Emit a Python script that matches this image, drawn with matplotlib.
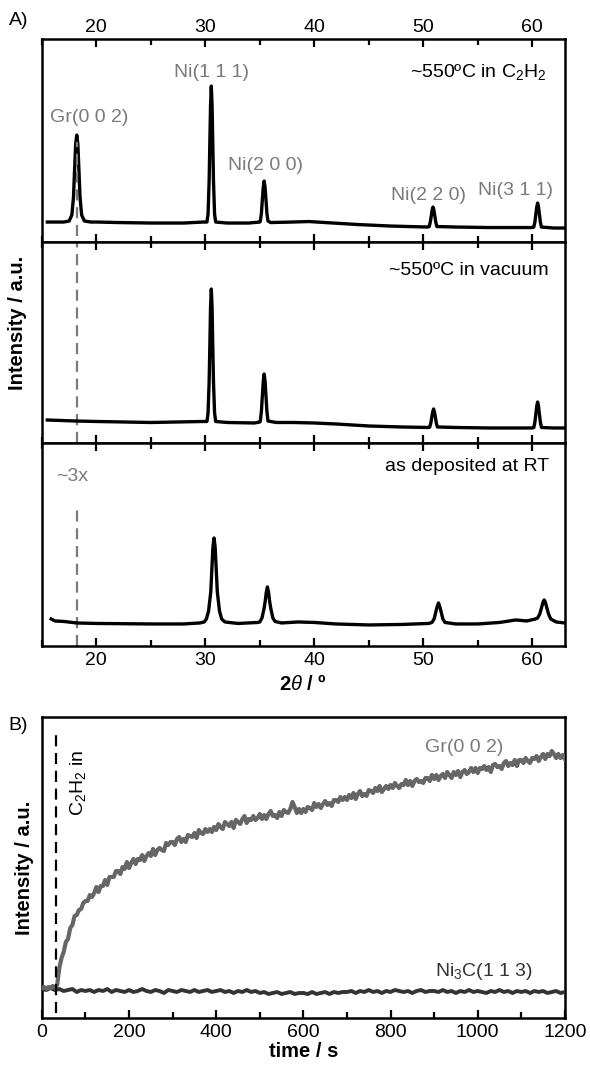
import matplotlib
matplotlib.use('Agg')
import matplotlib.pyplot as plt
from matplotlib.ticker import MultipleLocator

plt.rcParams['font.family'] = ['Liberation Sans', 'DejaVu Sans']
plt.rcParams['mathtext.fontset'] = 'custom'
plt.rcParams['mathtext.rm'] = 'Liberation Sans'
plt.rcParams['mathtext.it'] = 'Liberation Sans:italic'

# ---- data: XRD patterns (2theta in degrees, intensity in a.u.) ----
tt_c2h2 = [15.5, 17.0, 17.5, 17.75, 17.9, 18.0, 18.1, 18.2, 18.3, 18.4, 18.5, 18.65, 18.9, 19.5,
           20.0, 22.0, 25.0, 28.0, 29.8, 30.15, 30.25, 30.35, 30.42, 30.48, 30.55, 30.62, 30.68,
           30.75, 30.85, 30.95, 32.0, 34.0, 35.0, 35.05, 35.15, 35.25, 35.32, 35.4, 35.48, 35.55,
           35.65, 35.75, 36.0, 38.0, 39.5, 41.0, 44.0, 47.0, 50.4, 50.55, 50.65, 50.75, 50.82,
           50.9, 50.98, 51.05, 51.15, 51.25, 53.0, 56.0, 60.0, 60.15, 60.25, 60.35, 60.42, 60.5,
           60.58, 60.65, 60.75, 60.85, 62.0, 63.0]
int_c2h2 = [20, 20, 21, 27, 45, 72, 98, 107, 98, 72, 45, 27, 21, 20,
            20, 19.5, 19, 19, 20, 20, 28, 61, 102, 137, 156, 137, 102,
            61, 28, 20, 19, 19, 20, 21, 29, 45, 55, 61, 55, 45,
            29, 21, 19.5, 20, 20.5, 19.5, 17.5, 16, 15, 15.5, 20, 27, 32,
            35, 32, 27, 20, 15.5, 15, 14.5, 14.5, 15, 20, 29, 35, 39,
            35, 29, 20, 15, 14, 14]

tt_vac = [15.5, 18.0, 20.0, 25.0, 29.8, 30.15, 30.25, 30.35, 30.42, 30.48, 30.55, 30.62, 30.68,
          30.75, 30.85, 30.95, 32.0, 34.5, 35.0, 35.05, 35.15, 35.25, 35.32, 35.4, 35.48, 35.55,
          35.65, 35.75, 36.5, 38.0, 40.0, 42.0, 45.0, 48.0, 50.5, 50.6, 50.7, 50.8, 50.87, 50.95,
          51.03, 51.1, 51.2, 51.3, 53.0, 56.0, 60.0, 60.15, 60.25, 60.35, 60.42, 60.5, 60.58,
          60.65, 60.75, 60.85, 62.0, 63.0]
int_vac = [23, 22, 21.5, 20.5, 21.5, 21.5, 30, 61, 100, 136, 154, 136, 100,
           61, 30, 21.5, 20.5, 20, 21, 22, 32, 50, 62, 69, 62, 50,
           32, 22, 20.5, 20.5, 20, 19, 17, 16, 15.5, 16, 20, 27, 31, 34,
           31, 27, 20, 16, 15.5, 15, 15, 15.5, 21, 30, 37, 41, 37,
           30, 21, 15.5, 15, 15]

tt_rt = [15.85, 16.2, 17.0, 18.2, 20.0, 25.0, 28.0, 29.5, 29.9, 30.1, 30.3, 30.5, 30.6, 30.7,
         30.8, 30.9, 31.0, 31.1, 31.3, 31.5, 31.8, 33.0, 34.8, 35.0, 35.2, 35.4, 35.5, 35.6,
         35.7, 35.8, 35.9, 36.0, 36.2, 36.4, 37.0, 38.5, 40.0, 42.0, 45.0, 48.0, 50.5, 50.8,
         51.0, 51.2, 51.3, 51.4, 51.5, 51.6, 51.8, 52.0, 53.0, 55.0, 57.0, 58.5, 59.5, 60.3,
         60.5, 60.7, 60.9, 61.0, 61.1, 61.2, 61.3, 61.5, 61.7, 62.2, 63.0]
int_rt = [27, 25, 24.5, 23, 22.5, 22, 22, 23, 24, 27, 35, 54, 77, 99,
          108, 99, 77, 54, 35, 27, 24, 22.5, 23.5, 24, 28, 38, 45, 54,
          59, 54, 45, 38, 28, 24.5, 23, 24, 23.5, 22, 21, 21.5, 22.5, 23.5,
          27, 36, 40, 43, 40, 36, 27, 23.5, 22, 22, 23.5, 26, 25, 27,
          28, 32, 40, 44, 46, 44, 40, 32, 27, 24, 23]

# ---- data: time series, Gr(002) sampled every 5 s, Ni3C(113) every 10 s ----
t_gr = list(range(0, 1205, 5))
i_gr = [30, 31, 29, 31, 30, 32, 30, 33, 50, 60, 66, 76, 79, 90, 93, 102, 103, 108, 109, 115,
        117, 117, 123, 121, 125, 131, 126, 132, 132, 138, 133, 141, 141, 141, 147, 147, 144, 151, 149, 156,
        150, 155, 159, 154, 159, 158, 163, 157, 162, 165, 162, 169, 163, 168, 170, 168, 167, 175, 173, 176,
        176, 173, 179, 181, 176, 179, 176, 183, 182, 181, 185, 180, 188, 185, 184, 189, 186, 189, 186, 191,
        188, 194, 191, 189, 196, 194, 192, 196, 190, 198, 196, 194, 199, 202, 195, 199, 198, 202, 198, 200,
        204, 199, 203, 199, 204, 207, 202, 203, 200, 206, 202, 208, 206, 205, 209, 216, 211, 205, 209, 205,
        209, 206, 211, 210, 208, 215, 211, 214, 210, 214, 217, 213, 215, 212, 218, 218, 216, 221, 218, 221,
        218, 223, 220, 225, 219, 224, 227, 222, 224, 222, 228, 227, 225, 230, 227, 232, 226, 229, 232, 229,
        233, 230, 235, 232, 230, 234, 233, 238, 233, 237, 232, 237, 239, 236, 237, 235, 240, 240, 237, 243,
        239, 243, 238, 242, 244, 240, 246, 243, 240, 246, 243, 247, 241, 246, 248, 244, 246, 250, 246, 250,
        245, 250, 249, 252, 248, 251, 246, 253, 254, 251, 252, 249, 255, 257, 252, 255, 253, 258, 252, 258,
        258, 255, 260, 257, 255, 260, 259, 262, 257, 261, 264, 259, 264, 262, 267, 264, 260, 264, 260, 263, 259]

t_ni3c = list(range(0, 1205, 10))
i_ni3c = [29, 28, 30, 28, 29, 27, 28, 29, 26, 28,
          27, 28, 26, 28, 27, 29, 26, 28, 27, 26,
          28, 26, 27, 29, 27, 26, 28, 27, 25, 28,
          27, 26, 28, 27, 26, 28, 26, 27, 28, 26,
          27, 28, 26, 27, 25, 27, 26, 28, 26, 27,
          25, 26, 24, 25, 26, 24, 25, 26, 24, 25,
          25, 24, 26, 24, 25, 26, 24, 26, 25, 26,
          26, 27, 25, 27, 26, 28, 26, 27, 25, 27,
          26, 28, 27, 26, 27, 25, 27, 28, 26, 27,
          27, 26, 28, 26, 27, 25, 27, 26, 28, 26,
          27, 26, 25, 27, 26, 28, 26, 27, 25, 27,
          26, 27, 25, 27, 26, 27, 25, 26, 27, 25, 26]

gr_pos = 18.2
t_gas_in = 32

fig = plt.figure(figsize=(5.9, 10.7), dpi=100)
L, W = 0.071, 0.8864
ax1 = fig.add_axes([L, 0.7738, W, 0.1897])
ax2 = fig.add_axes([L, 0.5860, W, 0.1878])
ax3 = fig.add_axes([L, 0.3963, W, 0.1897])
axb = fig.add_axes([L, 0.0486, W, 0.2813])

grey = '#7a7a7a'
lw_curve = 2.4
fs = 14        # annotation text
fs_tick = 14
fs_lab = 14.5

for ax, x, y, top in [(ax1, tt_c2h2, int_c2h2, 203), (ax2, tt_vac, int_vac, 201), (ax3, tt_rt, int_rt, 203)]:
    ax.plot(x, y, color='black', lw=lw_curve, solid_joinstyle='round', zorder=3)
    ax.set_xlim(15, 63)
    ax.set_ylim(0, top)
    ax.set_yticks([])
    ax.xaxis.set_major_locator(MultipleLocator(10))
    ax.xaxis.set_minor_locator(MultipleLocator(5))
    ax.tick_params(axis='x', which='both', direction='in', top=True, bottom=True,
                   width=1.6, labelsize=fs_tick, labelbottom=False, labeltop=False)
    ax.tick_params(axis='x', which='major', length=6)
    ax.tick_params(axis='x', which='minor', length=4)
    for s in ax.spines.values():
        s.set_linewidth(1.8)

ax1.tick_params(axis='x', labeltop=True, pad=2)
ax3.tick_params(axis='x', labelbottom=True, pad=4)

# dashed marker for Gr(002)
ax1.plot([gr_pos, gr_pos], [6, 100], color=grey, lw=1.6, ls=(0, (5, 3)), zorder=4)
ax2.plot([gr_pos, gr_pos], [0, 201], color=grey, lw=1.6, ls=(0, (5, 3)), zorder=2)
ax3.plot([gr_pos, gr_pos], [0, 141], color=grey, lw=1.6, ls=(0, (5, 3)), zorder=2)

# peak labels
ax1.text(19.3, 125, 'Gr(0 0 2)', color=grey, fontsize=fs, ha='center', va='center')
ax1.text(30.6, 170, 'Ni(1 1 1)', color=grey, fontsize=fs, ha='center', va='center')
ax1.text(35.5, 77, 'Ni(2 0 0)', color=grey, fontsize=fs, ha='center', va='center')
ax1.text(50.5, 47, 'Ni(2 2 0)', color=grey, fontsize=fs, ha='center', va='center')
ax1.text(58.5, 52, 'Ni(3 1 1)', color=grey, fontsize=fs, ha='center', va='center')
ax1.text(61.3, 170, '~550ºC in C$_2$H$_2$', color='black', fontsize=fs, ha='right', va='center')
ax2.text(61.5, 173, '~550ºC in vacuum', color='black', fontsize=fs, ha='right', va='center')
ax3.text(61.6, 179, 'as deposited at RT', color='black', fontsize=fs, ha='right', va='center')
ax3.text(17.8, 169, '~3x', color=grey, fontsize=fs, ha='center', va='center')

ax3.set_xlabel(r'2$\mathit{\theta}$ / º', fontsize=fs_lab, fontweight='bold', labelpad=4)
fig.text(0.03, 0.6985, 'Intensity / a.u.', rotation=90, fontsize=fs_lab, fontweight='bold',
         ha='center', va='center')
fig.text(0.015, 0.981, 'A)', fontsize=fs, ha='left', va='center')

# ---- panel B ----
axb.plot(t_ni3c, i_ni3c, color='#333333', lw=2.8, zorder=3)
axb.plot(t_gr, i_gr, color='#666666', lw=3.0, zorder=4)
axb.plot([t_gas_in, t_gas_in], [5, 283], color='black', lw=1.6, ls=(0, (5, 3)), zorder=5)
axb.set_xlim(0, 1200)
axb.set_ylim(0, 301)
axb.set_yticks([])
axb.xaxis.set_major_locator(MultipleLocator(200))
axb.xaxis.set_minor_locator(MultipleLocator(100))
axb.tick_params(axis='x', which='both', direction='in', width=1.6, labelsize=fs_tick, pad=4)
axb.tick_params(axis='x', which='major', length=6)
axb.tick_params(axis='x', which='minor', length=4)
for s in axb.spines.values():
    s.set_linewidth(1.8)
axb.set_xlabel('time / s', fontsize=fs_lab, fontweight='bold', labelpad=1)
axb.set_ylabel('Intensity / a.u.', fontsize=fs_lab, fontweight='bold', labelpad=6)
axb.text(970, 271, 'Gr(0 0 2)', color=grey, fontsize=fs, ha='center', va='center')
axb.text(1015, 46, 'Ni$_3$C(1 1 3)', color='#333333', fontsize=fs, ha='center', va='center')
axb.text(82, 235, 'C$_2$H$_2$ in', color='black', fontsize=fs, rotation=90, ha='center', va='center')
fig.text(0.015, 1 - 725 / 1070, 'B)', fontsize=fs, ha='left', va='center')

fig.savefig('out.png', dpi=100, facecolor='white')
